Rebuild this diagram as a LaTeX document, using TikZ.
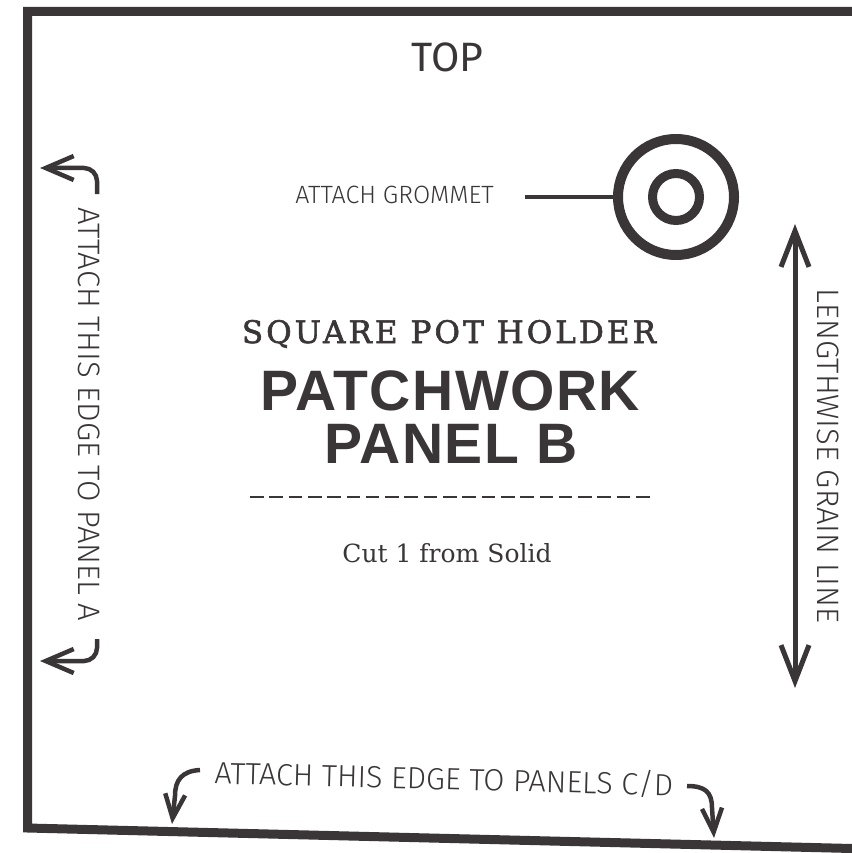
\documentclass[tikz,border=0pt]{standalone}
\usepackage{fontspec}
\usetikzlibrary{arrows.meta}
\newfontfamily\lightsans{Fira Sans Light}
\newfontfamily\regsans{Fira Sans}
\newfontfamily\heavysans{Liberation Sans}[LetterSpace=2.5]
\newfontfamily\slabspaced{DejaVu Serif}[LetterSpace=10,FakeBold=2]
\newfontfamily\slab{DejaVu Serif}
\definecolor{ink}{RGB}{58,54,55}
\tikzset{
  ink/.style={draw=ink, text=ink},
  hookarrow/.style={ink, line width=4.5, rounded corners=13, line cap=butt,
     -{Straight Barb[length=28pt,width=24pt]}},
  downhook/.style={ink, line width=4.5, line cap=butt,
     -{Straight Barb[length=24pt,width=20pt]}},
  grainarrow/.style={ink, line width=5,
     {Straight Barb[length=36pt,width=28pt]}-{Straight Barb[length=36pt,width=28pt]}},
  lbl/.style={text=ink, inner sep=0pt},
  ring/.style={circle, draw=ink, inner sep=0pt},
}
\begin{document}
\begin{tikzpicture}[x=1pt,y=-1pt]
\useasboundingbox (0,0) rectangle (851,853);
% outline of the panel
\draw[draw=ink, line width=9, line join=miter] (860,11.5) -- (27.5,11.5) -- (27.5,828) -- (860,848.7);

% top label
\node[lbl, anchor=base] (top) at (447.5,72) {\regsans\fontsize{41}{44}\selectfont TOP};

% grommet
\node[ring, line width=10, minimum size=116] (grom) at (676,197) {};
\node[ring, line width=9, minimum size=47] (gromin) at (676,197) {};
\node[lbl, anchor=base east] (gromlbl) at (494,203) {\lightsans\fontsize{25}{28}\selectfont ATTACH GROMMET};
\coordinate (gstart) at (525,197);
\draw[draw=ink, line width=4] (gstart) -- (grom.west);

% left edge
\node[lbl, rotate=-90] (lefttxt) at (89,414.5) {\lightsans\fontsize{31}{34}\selectfont ATTACH THIS EDGE TO PANEL A};
\coordinate (lt0) at (97,194);
\coordinate (lt1) at (97,168);
\coordinate (lt2) at (40,168);
\draw[hookarrow] (lt0) -- (lt1) -- (lt2);
\coordinate (lb0) at (97,639);
\coordinate (lb1) at (97,661);
\coordinate (lb2) at (40,661);
\draw[hookarrow] (lb0) -- (lb1) -- (lb2);

% grain line
\coordinate (gtop) at (795,224);
\coordinate (gbot) at (795,688);
\draw[grainarrow] (gtop) -- (gbot);
\node[lbl, rotate=-90] (graintxt) at (828,456) {\lightsans\fontsize{31}{34}\selectfont LENGTHWISE GRAIN LINE};

% titles
\node[lbl, anchor=base] (sq) at (449,343) {\slabspaced\fontsize{31}{34}\selectfont SQUARE POT HOLDER};
\node[lbl, anchor=base] (pw) at (450,410) {\heavysans\bfseries\fontsize{57}{60}\selectfont PATCHWORK};
\node[lbl, anchor=base] (pb) at (451,463) {\heavysans\bfseries\fontsize{57}{60}\selectfont PANEL B};
\coordinate (d0) at (250,497);
\coordinate (d1) at (650,497);
\draw[draw=ink, line width=1.5, dash pattern=on 13.6pt off 5.7pt] (d0) -- (d1);
\node[lbl, anchor=base] (cut) at (447,562) {\slab\fontsize{25}{28}\selectfont Cut 1 from Solid};

% bottom edge
\node[lbl, rotate=-1.5] (bottxt) at (444,779) {\lightsans\fontsize{30.6}{34}\selectfont ATTACH THIS EDGE TO PANELS C/D};
\coordinate (bl0) at (200,770);
\coordinate (bl1) at (175,796);
\coordinate (bl2) at (172,824);
\draw[downhook] (bl0) .. controls (182,771) and (175,780) .. (bl1) -- (bl2);
\coordinate (br0) at (687,786);
\coordinate (br1) at (712,808);
\coordinate (br2) at (714,838);
\draw[downhook] (br0) .. controls (705,786) and (712,792) .. (br1) -- (br2);
\end{tikzpicture}
\end{document}
